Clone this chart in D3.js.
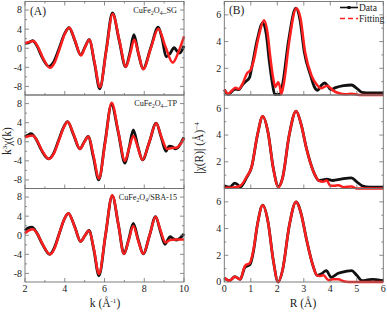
<!DOCTYPE html>
<html><head><meta charset="utf-8">
<script src="https://cdn.jsdelivr.net/npm/d3@7"></script>
<style>body{margin:0;background:#fff}svg{display:block}text{font-family:"Liberation Serif","DejaVu Serif",serif;fill:#222}</style>
</head><body><svg id="c" width="387" height="313"></svg>
<script>
// ---- data ----
const kTicks = [2,4,6,8,10];
const kMinor = [3,5,7,9];
const chiTicks = [-8,-4,0,4,8];
const chiMinor = [-6,-2,2,6];
const rTicks = [0,1,2,3,4,5,6];
const ftTicks = [2,4,6];
const ftTicksBottom = [0,2,4,6];
const ftMinor = [1,3,5];

const sgKData = [[2.0,1.0],[2.15,1.1],[2.38,1.6],[2.6,0.5],[2.85,-1.8],[3.2,-3.8],[3.45,-2.8],[3.72,0.0],[4.0,3.1],[4.22,4.3],[4.5,1.7],[4.8,-1.4],[5.02,0.3],[5.23,1.8],[5.5,-3.2],[5.76,-8.5],[6.08,-0.6],[6.4,7.4],[6.74,1.6],[7.06,-3.9],[7.28,-0.9],[7.48,2.85],[7.7,-1.0],[7.94,-4.3],[8.32,0],[8.7,4.4],[8.9,2.0],[9.1,-1.8],[9.3,-1.1],[9.5,0.1],[9.65,-0.6],[9.78,-1.0],[10.0,0.5]];
const sgKFit = [[2.0,1.1],[2.2,1.3],[2.42,1.5],[2.65,0.3],[2.9,-2.0],[3.26,-4.1],[3.5,-2.9],[3.75,0.0],[4.0,3.0],[4.23,4.3],[4.5,1.8],[4.82,-1.5],[5.03,0.3],[5.24,1.8],[5.5,-3.0],[5.77,-8.2],[6.09,-0.5],[6.41,7.2],[6.75,1.6],[7.08,-3.9],[7.29,-1.2],[7.5,1.8],[7.72,-1.3],[7.95,-4.4],[8.33,0],[8.71,4.1],[9.07,0.3],[9.43,-3.0],[9.72,-0.8],[10.0,2.5]];
const tpKData = [[2.0,1.0],[2.15,1.4],[2.3,1.7],[2.55,0.6],[2.82,-1.7],[3.18,-3.6],[3.43,-2.5],[3.68,0.2],[3.94,3.0],[4.14,4.2],[4.44,1.5],[4.76,-1.5],[4.97,-0.1],[5.18,1.1],[5.44,-3.2],[5.71,-8.0],[6.03,0.0],[6.35,7.8],[6.7,1.8],[7.03,-4.5],[7.25,-1.0],[7.45,2.5],[7.68,-1.0],[7.91,-3.8],[8.26,0],[8.6,3.9],[8.85,1.0],[9.09,-2.0],[9.25,-0.9],[9.4,-1.0],[9.55,-1.5],[9.7,-1.2],[9.85,-0.2],[10.0,0.9]];
const tpKFit = [[2.0,0.9],[2.2,1.2],[2.38,1.3],[2.6,0.3],[2.85,-1.8],[3.21,-3.6],[3.45,-2.5],[3.7,0.2],[3.95,3.0],[4.15,4.2],[4.45,1.5],[4.77,-1.5],[4.98,-0.1],[5.19,1.1],[5.45,-3.0],[5.72,-7.7],[6.04,0.0],[6.36,8.2],[6.7,2.0],[7.03,-4.0],[7.25,-1.2],[7.45,1.2],[7.68,-1.2],[7.91,-3.8],[8.26,0],[8.6,3.9],[8.88,0.8],[9.15,-1.5],[9.4,-1.3],[9.65,-1.2],[9.85,-0.3],[10.0,0.7]];
const sbaKData = [[2.0,1.0],[2.15,1.5],[2.35,1.7],[2.58,0.6],[2.88,-1.9],[3.24,-4.0],[3.48,-2.6],[3.72,0.3],[3.97,3.3],[4.18,4.6],[4.5,1.8],[4.8,-1.3],[5.01,-0.1],[5.22,1.0],[5.47,-3.2],[5.72,-8.5],[6.05,0],[6.39,8.3],[6.7,2.2],[6.98,-3.9],[7.22,-0.8],[7.45,2.5],[7.7,-1.0],[7.95,-3.9],[8.27,0],[8.57,3.9],[8.8,1.0],[9.04,-1.9],[9.18,-1.0],[9.3,-0.3],[9.45,-0.7],[9.6,-1.0],[9.8,-0.6],[10.0,0.3]];
const sbaKFit = [[2.0,0.4],[2.2,1.0],[2.4,1.25],[2.62,0.3],[2.9,-2.0],[3.26,-4.0],[3.5,-2.6],[3.72,0.3],[3.97,3.3],[4.18,4.6],[4.5,1.8],[4.8,-1.3],[5.01,-0.1],[5.22,1.0],[5.47,-3.0],[5.72,-8.1],[6.05,0],[6.39,8.4],[6.7,2.2],[6.98,-3.9],[7.22,-1.0],[7.45,1.95],[7.7,-1.2],[7.95,-3.9],[8.27,0],[8.57,3.9],[8.82,1.0],[9.07,-1.5],[9.3,-1.0],[9.6,-0.9],[10.0,-0.9]];

const sgRData = [[0,0.4],[0.15,0.05],[0.3,0.3],[0.42,0.45],[0.55,0.4],[0.7,0.8],[0.8,1.0],[0.95,1.3],[1.05,2.2],[1.25,4.2],[1.45,5.4],[1.58,4.6],[1.7,2.5],[1.82,0.8],[1.9,0.05],[2.0,0.05],[2.1,0.05],[2.2,0.8],[2.42,4.0],[2.7,6.5],[2.85,5.7],[3.02,3.2],[3.25,1.5],[3.4,0.6],[3.52,0.35],[3.65,0.7],[3.78,0.9],[3.9,0.7],[4.02,0.4],[4.2,0.55],[4.5,0.7],[4.8,0.75],[5.0,0.5],[5.2,0.2],[5.5,0.15],[6.0,0.15]];
const sgRFit = [[0,0.4],[0.15,0.1],[0.3,0.35],[0.42,0.55],[0.55,0.45],[0.7,0.9],[0.85,1.6],[1.0,1.9],[1.1,2.5],[1.3,4.4],[1.5,5.6],[1.62,4.8],[1.75,2.6],[1.85,1.2],[1.93,0.6],[2.03,0.95],[2.1,0.6],[2.15,0.05],[2.25,0.9],[2.45,4.0],[2.72,6.5],[2.87,5.8],[3.05,3.2],[3.3,1.4],[3.5,0.75],[3.65,0.5],[3.88,0.7],[4.1,0.35],[4.3,0.15],[4.6,0.05],[4.8,0.1],[5.1,0.0],[6.0,0.0]];
const tpRData = [[0,0.2],[0.2,0.1],[0.4,0.4],[0.5,0.3],[0.6,0.1],[0.85,0.85],[1.03,1.6],[1.25,4.0],[1.45,5.4],[1.65,4.2],[1.85,1.5],[2.04,0.15],[2.2,0.8],[2.45,4.0],[2.71,5.8],[2.9,4.8],[3.1,3.0],[3.4,1.1],[3.56,0.6],[3.72,0.65],[3.87,0.7],[4.1,0.6],[4.4,0.7],[4.8,0.8],[5.0,0.5],[5.2,0.2],[5.5,0.1],[6.0,0.1]];
const tpRFit = [[0,0.05],[0.2,0.05],[0.4,0.1],[0.6,0.2],[0.85,0.9],[1.03,1.6],[1.25,4.0],[1.45,5.4],[1.65,4.2],[1.85,1.5],[2.04,0.1],[2.2,0.8],[2.45,4.0],[2.71,5.8],[2.9,4.8],[3.1,3.0],[3.4,1.1],[3.56,0.6],[3.72,0.5],[3.87,0.6],[4.0,0.2],[4.15,0.2],[4.3,0.25],[4.5,0.1],[4.8,0.15],[5.0,0.0],[6.0,0.0]];
const sbaRData = [[0,0.3],[0.2,0.1],[0.4,0.4],[0.6,0.2],[0.78,1.1],[0.97,1.3],[1.1,2.3],[1.25,4.3],[1.45,5.75],[1.65,4.5],[1.85,1.6],[2.03,0.0],[2.2,0.9],[2.45,4.2],[2.71,6.0],[2.9,5.1],[3.1,3.2],[3.35,1.2],[3.5,0.5],[3.65,0.6],[3.85,0.85],[4.03,0.35],[4.3,0.65],[4.6,0.8],[4.8,0.85],[5.0,0.5],[5.2,0.1],[5.4,0.15],[5.6,0.2],[5.8,0.15],[6.0,0.1]];
const sbaRFit = [[0,0.3],[0.2,0.1],[0.4,0.4],[0.6,0.2],[0.78,1.2],[0.97,1.45],[1.1,2.4],[1.25,4.3],[1.45,5.75],[1.65,4.5],[1.85,1.6],[2.03,0.0],[2.2,0.9],[2.45,4.2],[2.71,6.0],[2.9,5.1],[3.1,3.2],[3.35,1.2],[3.5,0.5],[3.62,0.45],[3.75,0.5],[3.92,0.15],[4.1,0.2],[4.3,0.2],[4.5,0.05],[4.7,0.0],[6.0,0.0]];

const kSeries = [[sgKData,sgKFit],[tpKData,tpKFit],[sbaKData,sbaKFit]];
const rSeries = [[sgRData,sgRFit],[tpRData,tpRFit],[sbaRData,sbaRFit]];
const sampleSuffix = ["_SG","_TP","/SBA-15"];

// ---- layout ----
const svg = d3.select("#c");
const bounds = [1.5, 95, 188.5, 282];
const L = {x0:25, x1:184}, R = {x0:224.3, x1:383.3};
const frameCol = "#707070", dataCol = "#111", fitCol = "#ff1f1f";
const xK = d3.scaleLinear().domain([2,10]).range([L.x0, L.x1]);
const xR = d3.scaleLinear().domain([0,6]).range([R.x0, R.x1]);

function ticksIn(g, x0, x1, y0, y1, xs, ys, xsMinor, ysMinor, xScale, yScale, top){
  const tl = 4, tm = 2;
  const add = (a,b,c,d) => g.append("line").attr("x1",a).attr("y1",b).attr("x2",c).attr("y2",d).attr("stroke",frameCol).attr("stroke-width",0.8);
  xs.forEach(v=>{const x=xScale(v); add(x,y1,x,y1-tl); if(top) add(x,y0,x,y0+tl);});
  xsMinor.forEach(v=>{const x=xScale(v); add(x,y1,x,y1-tm); if(top) add(x,y0,x,y0+tm);});
  ys.forEach(v=>{const y=yScale(v); add(x0,y,x0+tl,y); add(x1,y,x1-tl,y);});
  ysMinor.forEach(v=>{const y=yScale(v); add(x0,y,x0+tm,y); add(x1,y,x1-tm,y);});
}

for (let i=0;i<3;i++){
  const y0 = bounds[i], y1 = bounds[i+1];
  // ---- left: k-space ----
  const yK = d3.scaleLinear().domain([-9.8,9.8]).range([y1,y0]);
  const gL = svg.append("g");
  const lineK = d3.line().x(d=>xK(d[0])).y(d=>yK(d[1])).curve(d3.curveMonotoneX);
  gL.append("path").attr("d",lineK(kSeries[i][0])).attr("fill","none").attr("stroke",dataCol).attr("stroke-width",2.8);
  gL.append("path").attr("d",lineK(kSeries[i][1])).attr("fill","none").attr("stroke",fitCol).attr("stroke-width",2.5);
  gL.append("rect").attr("x",L.x0).attr("y",y0).attr("width",L.x1-L.x0).attr("height",y1-y0).attr("fill","none").attr("stroke",frameCol).attr("stroke-width",0.9);
  ticksIn(gL, L.x0, L.x1, y0, y1, kTicks, chiTicks, kMinor, chiMinor, xK, yK, i===0);
  chiTicks.forEach(v=>gL.append("text").attr("x",L.x0-3).attr("y",yK(v)+3.4).attr("text-anchor","end").attr("font-size",10).text(String(v)));
  const lbl = gL.append("text").attr("x",L.x1-7).attr("y",y0+11).attr("text-anchor","end").attr("font-size",8.2);
  lbl.append("tspan").text("CuFe");
  lbl.append("tspan").text("2").attr("font-size",5.5).attr("dy",2);
  lbl.append("tspan").text("O").attr("dy",-2);
  lbl.append("tspan").text("4").attr("font-size",5.5).attr("dy",2);
  lbl.append("tspan").text(sampleSuffix[i]).attr("dy",-2);

  // ---- right: R-space ----
  const yR = d3.scaleLinear().domain([0,7]).range([y1,y0]);
  const gR = svg.append("g");
  const lineR = d3.line().x(d=>xR(d[0])).y(d=>yR(d[1])).curve(d3.curveMonotoneX);
  gR.append("path").attr("d",lineR(rSeries[i][0])).attr("fill","none").attr("stroke",dataCol).attr("stroke-width",2.8);
  gR.append("path").attr("d",lineR(rSeries[i][1])).attr("fill","none").attr("stroke",fitCol).attr("stroke-width",2.5);
  gR.append("rect").attr("x",R.x0).attr("y",y0).attr("width",R.x1-R.x0).attr("height",y1-y0).attr("fill","none").attr("stroke",frameCol).attr("stroke-width",0.9);
  ticksIn(gR, R.x0, R.x1, y0, y1, rTicks, ftTicks, [], ftMinor, xR, yR, i===0);
  (i===2?ftTicksBottom:ftTicks).forEach(v=>gR.append("text").attr("x",R.x0-3).attr("y",yR(v)+3.4).attr("text-anchor","end").attr("font-size",10).text(String(v)));
}

// bottom tick labels
kTicks.forEach(v=>svg.append("text").attr("x",xK(v)).attr("y",292).attr("text-anchor","middle").attr("font-size",10).text(String(v)));
rTicks.forEach(v=>svg.append("text").attr("x",xR(v)).attr("y",292).attr("text-anchor","middle").attr("font-size",10).text(String(v)));

// axis titles
const kt = svg.append("text").attr("x",105).attr("y",307).attr("text-anchor","middle").attr("font-size",11.5);
kt.append("tspan").text("k (\u00c5");
kt.append("tspan").text("-1").attr("font-size",7).attr("dy",-4);
kt.append("tspan").text(")").attr("dy",4);
svg.append("text").attr("x",303).attr("y",307).attr("text-anchor","middle").attr("font-size",11.5).text("R (\u00c5)");

const ylk = svg.append("text").attr("transform","translate(11,141) rotate(-90)").attr("text-anchor","middle").attr("font-size",11.5);
ylk.append("tspan").text("k");
ylk.append("tspan").text("3").attr("font-size",7).attr("dy",-4);
ylk.append("tspan").text("\u03c7(k)").attr("dy",4);
const ylr = svg.append("text").attr("transform","translate(203,148) rotate(-90)").attr("text-anchor","middle").attr("font-size",11.5);
ylr.append("tspan").text("|\u03c7(R)| (\u00c5)");
ylr.append("tspan").text("\u22124").attr("font-size",7).attr("dy",-4);

// panel letters
svg.append("text").attr("x",30).attr("y",15).attr("font-size",11.5).text("(A)");
svg.append("text").attr("x",229).attr("y",14).attr("font-size",11.5).text("(B)");

// legend
const lg = svg.append("g");
lg.append("line").attr("x1",340).attr("x2",358).attr("y1",7.5).attr("y2",7.5).attr("stroke",dataCol).attr("stroke-width",1.6);
lg.append("rect").attr("x",347.5).attr("y",6).attr("width",3).attr("height",3).attr("fill",dataCol);
lg.append("text").attr("x",359).attr("y",10.5).attr("font-size",9.5).text("Data");
lg.append("line").attr("x1",340).attr("x2",358).attr("y1",18.5).attr("y2",18.5).attr("stroke",fitCol).attr("stroke-width",1.6).attr("stroke-dasharray","5,3");
lg.append("text").attr("x",359).attr("y",21.5).attr("font-size",9.5).text("Fitting");
</script></body></html>
